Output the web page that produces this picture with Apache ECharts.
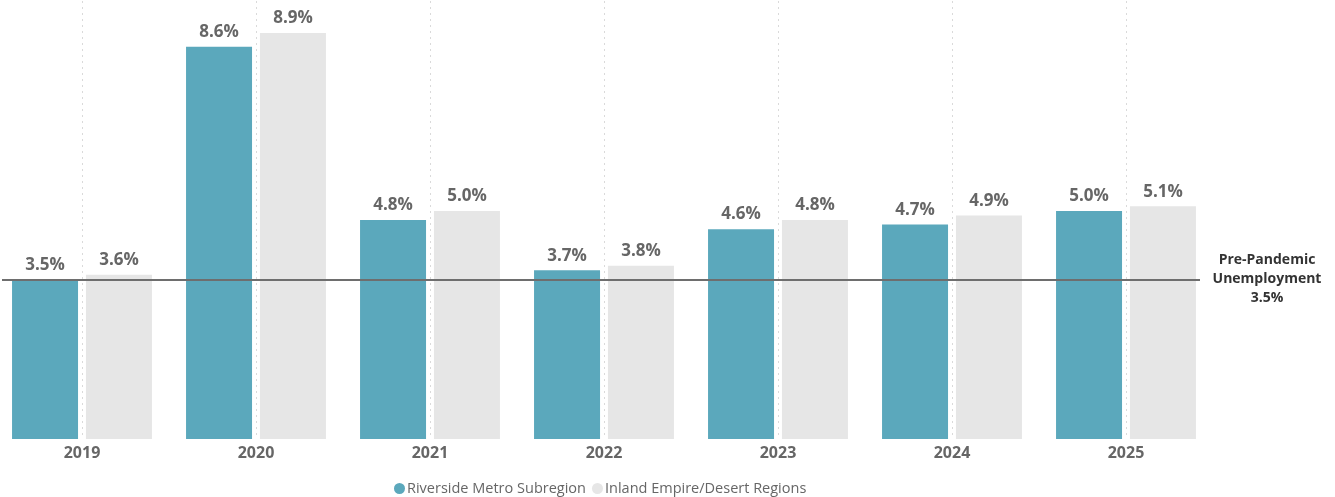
<!DOCTYPE html>
<html>
<head>
<meta charset="utf-8">
<script src="https://cdn.jsdelivr.net/npm/echarts@6/dist/echarts.min.js"></script>
<style>
  html, body { margin: 0; padding: 0; background: #fff; }
  #chart { width: 1335px; height: 497px; }
</style>
</head>
<body>
<div id="chart"></div>
<script>
// Annual unemployment rate (%)
const years = ['2019', '2020', '2021', '2022', '2023', '2024', '2025'];
const riversideMetro = [3.5, 8.6, 4.8, 3.7, 4.6, 4.7, 5.0];
const inlandEmpireDesert = [3.6, 8.9, 5.0, 3.8, 4.8, 4.9, 5.1];
const prePandemicRate = 3.5;
const seriesNames = ['Riverside Metro Subregion', 'Inland Empire/Desert Regions'];
const referenceLabel = ['Pre-Pandemic', 'Unemployment'];

const FONT = '"Open Sans", "Noto Sans", sans-serif';

const valueLabel = {
  show: true,
  position: 'top',
  distance: 6,
  fontFamily: FONT,
  fontSize: 17,
  fontWeight: 'bold',
  color: '#666666',
  formatter: p => p.value.toFixed(1) + '%'
};

const chart = echarts.init(document.getElementById('chart'), null, { renderer: 'canvas' });

chart.setOption({
  animation: false,
  backgroundColor: '#ffffff',
  grid: { left: -5, right: 122, top: 1, bottom: 58, containLabel: false, outerBoundsMode: 'none' },
  legend: {
    data: seriesNames,
    left: 389,
    top: 476,
    icon: 'circle',
    itemWidth: 11,
    itemHeight: 11,
    itemGap: 6,
    textStyle: { fontFamily: FONT, fontSize: 14.5, color: '#666666', padding: [0, 0, 0, -3] }
  },
  xAxis: {
    type: 'category',
    data: years,
    axisLine: { show: false },
    axisTick: { show: false, alignWithLabel: true },
    axisLabel: {
      fontFamily: FONT, fontSize: 16, fontWeight: 'bold', color: '#666666', margin: 6
    },
    splitLine: {
      show: true,
      alignWithLabel: true,
      lineStyle: { color: '#dadada', width: 1, type: [2, 4] }
    }
  },
  yAxis: {
    type: 'value',
    min: 0,
    max: 9.6,
    show: false,
    splitLine: { show: false }
  },
  series: [
    {
      name: seriesNames[0],
      type: 'bar',
      data: riversideMetro,
      barWidth: 66,
      barGap: '12%',
      itemStyle: { color: '#5ba8bc' },
      label: valueLabel,
      markLine: {
        silent: true,
        symbol: 'none',
        z: 10,
        lineStyle: { color: '#6e6e6e', width: 2, type: 'solid' },
        label: {
          show: true,
          position: 'end',
          distance: 67,
          align: 'center',
          fontFamily: FONT,
          fontSize: 14,
          fontWeight: 'bold',
          lineHeight: 19,
          color: '#333333',
          padding: [0, 0, 3, 0],
          formatter: () => referenceLabel.join('\n') + '\n' + prePandemicRate.toFixed(1) + '%'
        },
        data: [[{ x: 2, yAxis: prePandemicRate }, { x: 1200, yAxis: prePandemicRate }]]
      }
    },
    {
      name: seriesNames[1],
      type: 'bar',
      data: inlandEmpireDesert,
      barWidth: 66,
      barGap: '12%',
      itemStyle: { color: '#e6e6e6' },
      label: valueLabel
    }
  ]
});
</script>
</body>
</html>
